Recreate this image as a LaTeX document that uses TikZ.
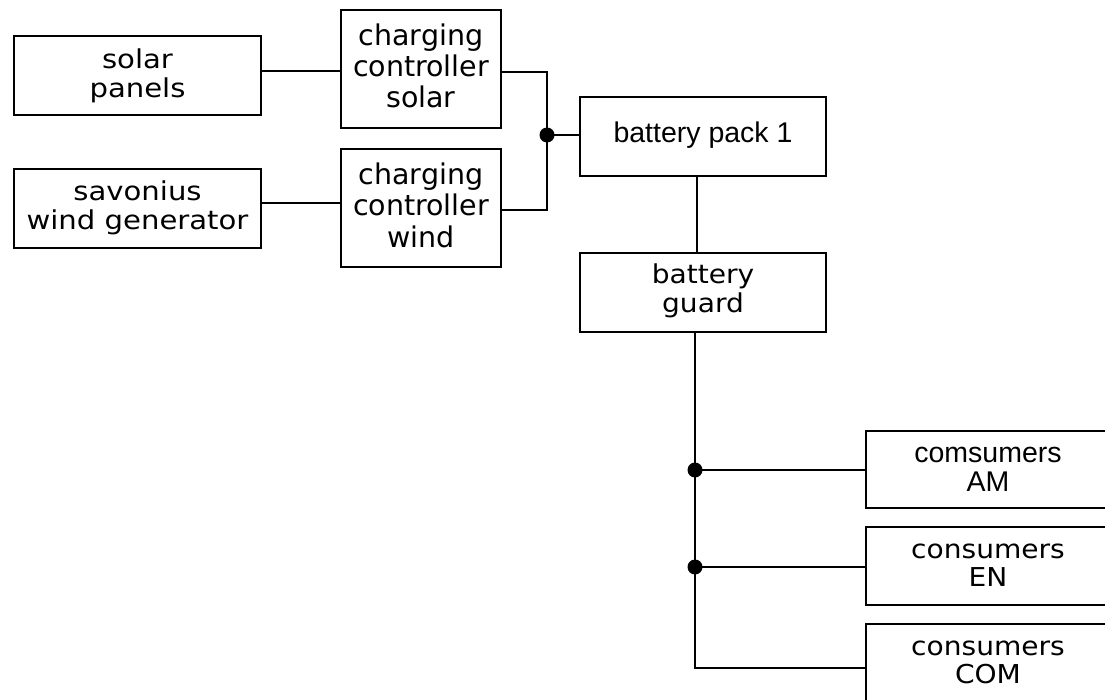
\documentclass[tikz,border=0pt]{standalone}
\usepackage{fontspec}
\newfontfamily\vfont[FakeStretch=1.08]{DejaVu Sans}
\newfontfamily\vfontsv[FakeStretch=1.12]{DejaVu Sans}
\newfontfamily\vfontcc{DejaVu Sans}
\newfontfamily\afont{Liberation Sans}
\newcommand\ustr[1]{\rule[-.3\baselineskip]{0pt}{\dimexpr\baselineskip+#1\relax}}
\begin{document}
\begin{tikzpicture}[x=1pt,y=-1pt,
  box/.style={draw=black,line width=2pt,fill=white,inner sep=0pt,align=center,
    font=\vfont\fontsize{26}{28.5}\selectfont},
  svbox/.style={box,font=\vfontsv\fontsize{26}{28}\selectfont},
  ccbox/.style={box,font=\vfontcc\fontsize{28.5}{28.7}\selectfont},
  abox/.style={box,font=\afont\fontsize{28.5}{29}\selectfont},
  wire/.style={draw=black,line width=2pt},
  dot/.style={circle,fill=black,inner sep=0pt,minimum size=15pt}]
\useasboundingbox (0,0) rectangle (1105,700);
\clip (0,0) rectangle (1105,700);
\node[svbox,minimum width=247pt,minimum height=79pt] (sp) at (137.5,75.5) {\ustr{4pt}solar\\\strut panels};
\node[svbox,minimum width=247pt,minimum height=79pt] (sv) at (137.5,208.5) {\ustr{2pt}savonius\\\strut wind generator};
\node[ccbox,minimum width=160pt,minimum height=118pt] (ccs) at (421,69) {\ustr{4pt}charging\\\strut controller\\\strut solar};
\node[ccbox,minimum width=160pt,minimum height=118pt] (ccw) at (421,208) {\ustr{4pt}charging\\\strut controller\\\strut wind};
\node[abox,minimum width=246pt,minimum height=79pt] (bp) at (703,136.5) {\strut battery pack 1};
\node[box,minimum width=246pt,minimum height=79pt] (bg) at (703,292.5) {\strut battery\\\strut guard};
\node[abox,minimum width=244pt,minimum height=77pt] (cam) at (988,469.5) {\ustr{4pt}comsumers\\\strut AM};
\node[box,minimum width=244pt,minimum height=78pt] (cen) at (988,566) {\ustr{2pt}consumers\\\strut EN};
\node[box,minimum width=244pt,minimum height=78pt] (ccom) at (988,663) {\ustr{2pt}consumers\\\strut COM};
\coordinate (j) at (547,135);
\coordinate (d1) at (695,470);
\coordinate (d2) at (695,567);
\draw[wire] ([yshift=-2pt]ccs.west) -- ([yshift=-2pt]ccs.west -| sp.east);
\draw[wire] ([yshift=5pt]ccw.west) -- ([yshift=5pt]ccw.west -| sv.east);
\draw[wire] ([yshift=-3pt]ccs.east) -| (j);
\draw[wire] ([yshift=-2pt]ccw.east) -| (j);
\draw[wire] (j) -- (j -| bp.west);
\draw[wire] ([xshift=-6pt]bp.south) -- ([xshift=-6pt]bp.south |- bg.north);
\draw[wire] ([xshift=-8pt]bg.south) |- ([yshift=-5pt]ccom.west);
\draw[wire] (d1) -- (d1 -| cam.west);
\draw[wire] (d2) -- (d2 -| cen.west);
\node[dot] (jd) at (j) {};
\node[dot] (d1d) at (d1) {};
\node[dot] (d2d) at (d2) {};
\end{tikzpicture}
\end{document}
